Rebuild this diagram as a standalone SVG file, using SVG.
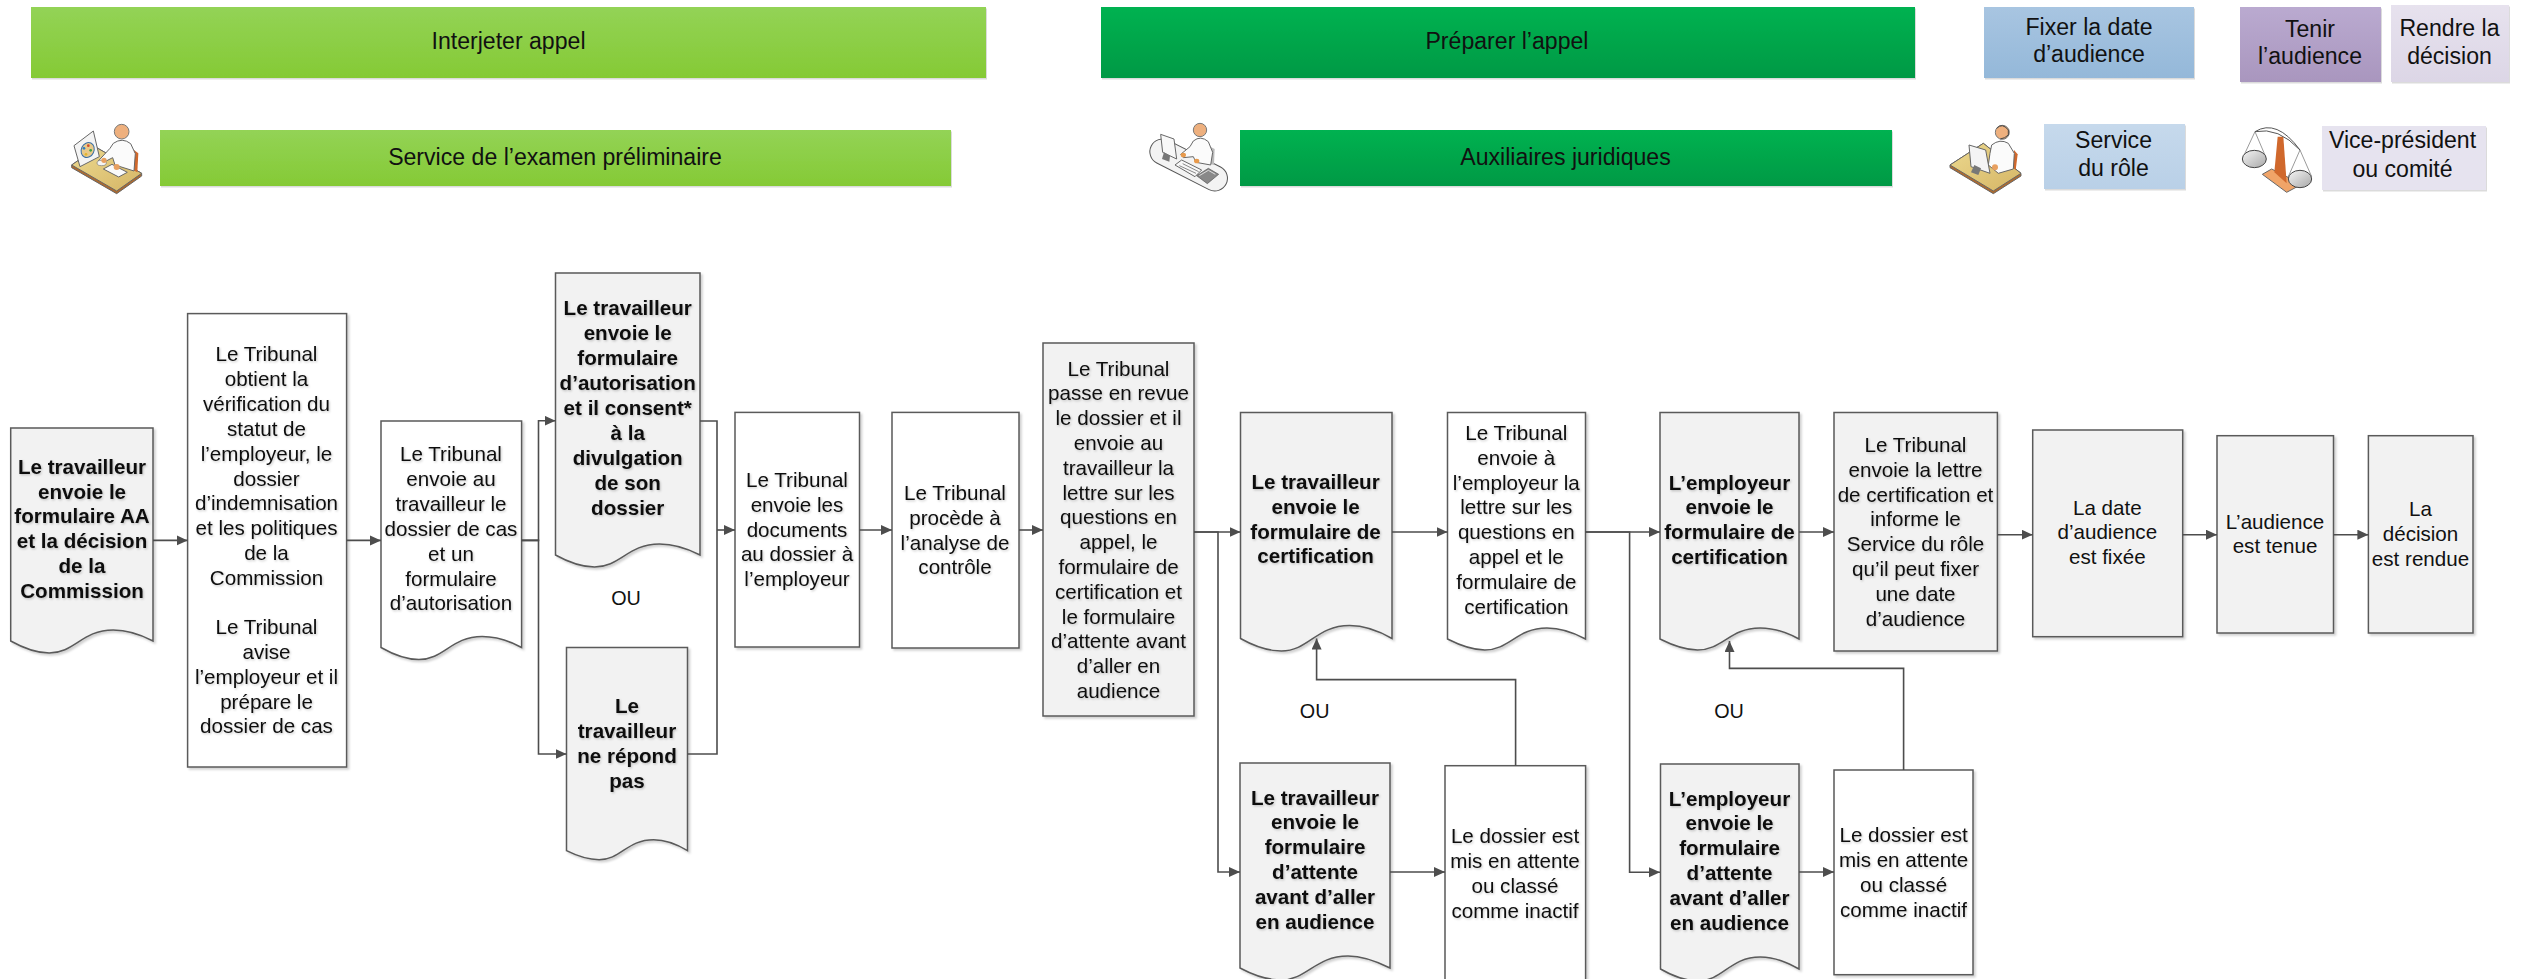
<svg xmlns="http://www.w3.org/2000/svg" width="2521" height="979" viewBox="0 0 2521 979">
<style>
text{font-family:"Liberation Sans",Arial,sans-serif;font-size:20.6px;fill:#111;text-anchor:middle}
.b{font-weight:bold}
.h{font-size:23.1px}
.ou{font-size:19.8px}
.ts{filter:url(#textShadow)}
.s{stroke:#5a5a5a;stroke-width:1.5;filter:url(#boxShadow)}
.w{fill:#fff}
.g{fill:#f2f2f2}
.hb{filter:url(#headShadow)}
.c{fill:none;stroke:#4d4d4d;stroke-width:1.6;marker-end:url(#arrow)}
.l{fill:none;stroke:#4d4d4d;stroke-width:1.6}
.ol{stroke:#666;stroke-width:3;stroke-linejoin:round}
</style>
<defs>
<filter id="boxShadow" x="-5%" y="-5%" width="110%" height="110%"><feDropShadow dx="2" dy="2" stdDeviation="1" flood-color="#000" flood-opacity=".18"/></filter>
<filter id="headShadow" x="-2%" y="-5%" width="104%" height="112%"><feDropShadow dx="1" dy="1.5" stdDeviation=".7" flood-color="#000" flood-opacity=".14"/></filter>
<filter id="textShadow" x="-5%" y="-5%" width="110%" height="110%"><feDropShadow dx="1" dy="1.2" stdDeviation=".8" flood-color="#000" flood-opacity=".22"/></filter>
<marker id="arrow" markerUnits="userSpaceOnUse" markerWidth="12" markerHeight="11" refX="11" refY="5" orient="auto"><path d="M0,0L11,5L0,10Z" fill="#4d4d4d"/></marker>
<linearGradient id="gl" x1="0" y1="0" x2="0" y2="1"><stop offset="0" stop-color="#93d356"/><stop offset="1" stop-color="#85ca35"/></linearGradient>
<linearGradient id="gd" x1="0" y1="0" x2="0" y2="1"><stop offset="0" stop-color="#00b251"/><stop offset="1" stop-color="#009944"/></linearGradient>
<linearGradient id="gb" x1="0" y1="0" x2="0" y2="1"><stop offset="0" stop-color="#a8c5e1"/><stop offset="1" stop-color="#94b8d9"/></linearGradient>
<linearGradient id="gp" x1="0" y1="0" x2="0" y2="1"><stop offset="0" stop-color="#baaad0"/><stop offset="1" stop-color="#a996be"/></linearGradient>
<linearGradient id="gr" x1="0" y1="0" x2="0" y2="1"><stop offset="0" stop-color="#e7e2ee"/><stop offset="1" stop-color="#dcd6e6"/></linearGradient>
<linearGradient id="gs" x1="0" y1="0" x2="0" y2="1"><stop offset="0" stop-color="#c6d9ec"/><stop offset="1" stop-color="#b9d0e7"/></linearGradient>
<linearGradient id="gm" x1="0" y1="0" x2="1" y2="1"><stop offset="0" stop-color="#f5f5f5"/><stop offset="1" stop-color="#a8a8a8"/></linearGradient>
<linearGradient id="gt" x1="0" y1="0" x2="1" y2="1"><stop offset="0" stop-color="#ecd98f"/><stop offset="1" stop-color="#d5b565"/></linearGradient>
</defs>

<g id="h-interjeter"><rect class="hb" x="31" y="7" width="955" height="71" fill="url(#gl)"/><text class="h" x="508.5" y="49">Interjeter appel</text></g>
<g id="h-preparer"><rect class="hb" x="1101" y="7" width="814" height="71" fill="url(#gd)"/><text class="h" x="1507" y="49">Préparer l’appel</text></g>
<g id="h-fixer"><rect class="hb" x="1984" y="7" width="210" height="71" fill="url(#gb)"/><text class="h" x="2089" y="34.7">Fixer la date</text><text class="h" x="2089" y="62.3">d’audience</text></g>
<g id="h-tenir"><rect class="hb" x="2240" y="7" width="141" height="75" fill="url(#gp)"/><text class="h" x="2310" y="36.7">Tenir</text><text class="h" x="2310" y="64">l’audience</text></g>
<g id="h-rendre"><rect class="hb" x="2391" y="5" width="118" height="77" fill="url(#gr)"/><text class="h" x="2449.5" y="36">Rendre la</text><text class="h" x="2449.5" y="64">décision</text></g>
<g id="r-examen"><rect class="hb" x="160" y="130" width="791" height="56" fill="url(#gl)"/><text class="h" x="555" y="164.7">Service de l’examen préliminaire</text></g>
<g id="r-auxiliaires"><rect class="hb" x="1240" y="130" width="652" height="56" fill="url(#gd)"/><text class="h" x="1565.5" y="164.7">Auxiliaires juridiques</text></g>
<g id="r-role"><rect class="hb" x="2044" y="124" width="141" height="65" fill="url(#gs)"/><text class="h" x="2113.5" y="148">Service</text><text class="h" x="2113.5" y="176">du rôle</text></g>
<g id="r-vice"><rect class="hb" x="2322" y="126" width="164" height="64" fill="#e6e3ef"/><text class="h" x="2402.5" y="148.3">Vice-président</text><text class="h" x="2402.5" y="177">ou comité</text></g>

<g id="icon-examen" transform="translate(60 115) scale(.3333)">
<path class="ol" d="M35,150L110,98L245,175V183L170,236L35,158Z" fill="#b06a2c"/>
<path class="ol" d="M35,150L110,98L245,175L170,228Z" fill="url(#gt)"/>
<path d="M222,105L235,115L232,172L219,165Z" fill="#d0682c"/>
<path class="ol" d="M42,92L100,48L118,125L60,155Z" fill="#f4f4f4"/>
<ellipse cx="83" cy="105" rx="19" ry="23" transform="rotate(25 83 105)" fill="#e8c98a" stroke="#3a6ea5" stroke-width="3"/>
<circle cx="72" cy="100" r="4" fill="#2f7fc1"/><circle cx="85" cy="92" r="4" fill="#d04a2c"/><circle cx="92" cy="106" r="4" fill="#3ca04a"/><circle cx="78" cy="118" r="4" fill="#e3b52c"/>
<path class="ol" d="M160,85Q187,66 212,86L226,116L222,168L165,150L158,128L125,145L115,138L150,100Z" fill="#fbfbfb"/>
<ellipse cx="125" cy="144" rx="14" ry="8" fill="#f4f4f4" stroke="#777" stroke-width="2"/>
<circle cx="132" cy="136" r="8" fill="#e8a060"/>
<path class="ol" d="M130,162L156,148L202,172L176,186Z" fill="#fafafa"/>
<circle cx="170" cy="156" r="9" fill="#e8a060"/>
<circle cx="185" cy="50" r="22" fill="#eeb07e" stroke="#777" stroke-width="3"/>
</g>

<g id="icon-auxiliaires" transform="translate(1140 115) scale(.3333)">
<rect x="20" y="112" width="252" height="76" rx="38" transform="rotate(27 146 150)" fill="#f3f3f3" stroke="#555" stroke-width="3"/>
<path d="M205,92L224,102L222,150L205,145Z" fill="#bbb"/>
<path class="ol" d="M62,58L102,72L110,132L68,112Z" fill="#f8f8f8"/>
<path d="M72,112L90,122L88,140L66,132Z" fill="#777"/>
<path class="ol" d="M160,78Q182,60 205,80L218,112L212,150L168,142L160,125L130,128L122,118L150,95Z" fill="#fbfbfb"/>
<ellipse cx="130" cy="120" rx="8" ry="7" fill="#e89a4c"/>
<ellipse cx="170" cy="138" rx="8" ry="7" fill="#e89a4c"/>
<path class="ol" d="M105,150L125,135L185,165L165,185Z" fill="#f8f8f8"/>
<path d="M118,152L168,175M128,146L176,170" stroke="#888" stroke-width="3"/>
<path d="M170,182L205,160L236,178L202,206Z" fill="#888" stroke="#555" stroke-width="2"/>
<path d="M178,182L205,166L226,178" fill="none" stroke="#ddd" stroke-width="3"/>
<circle cx="180" cy="45" r="20" fill="#eeb07e" stroke="#777" stroke-width="3"/>
</g>

<g id="icon-role" transform="translate(1945 115) scale(.3333)">
<path class="ol" d="M15,150L115,85L228,175V183L145,236L15,158Z" fill="#b06a2c"/>
<path class="ol" d="M15,150L115,85L228,175L145,228Z" fill="url(#gt)"/>
<path d="M207,105L218,118L212,165L202,155Z" fill="#d0682c"/>
<path class="ol" d="M140,90Q165,70 190,85L208,115L205,162L160,175L130,150L135,115Z" fill="#fbfbfb"/>
<circle cx="150" cy="157" r="9" fill="#e8a060"/>
<path class="ol" d="M72,90L122,105L135,175L78,155Z" fill="#f4f4f4"/>
<path d="M88,150L108,160L100,180L78,172Z" fill="#777"/>
<circle cx="172" cy="52" r="21" fill="#eeb07e" stroke="#777" stroke-width="3"/>
<path d="M155,40Q172,22 190,45L190,60Q180,70 166,72" fill="none" stroke="#444" stroke-width="3"/>
</g>

<g id="icon-vice" transform="translate(2235 115) scale(.3333)">
<path class="ol" d="M82,178L110,162L200,208L155,232Z" fill="#f0a468"/>
<path d="M128,65L145,65L155,205L118,172Z" fill="#d0682c"/>
<path d="M60,50L25,125M60,50L92,125M195,105L160,185M195,105L230,185" stroke="#666" stroke-width="2" fill="none"/>
<ellipse cx="58" cy="132" rx="36" ry="26" fill="url(#gm)" stroke="#444" stroke-width="3"/>
<ellipse cx="195" cy="192" rx="35" ry="26" fill="url(#gm)" stroke="#444" stroke-width="3"/>
<path d="M60,50Q125,10 195,105Q130,35 60,50Z" fill="#fff" stroke="#555" stroke-width="3" stroke-linejoin="round"/>
</g>

<g id="n1"><path class="s g" d="M10.7,428H153V641c-11.4,-6 -24.2,-11 -39.8,-11c-31.3,0 -38.4,23 -64,23c-12.8,0 -24.2,-4 -38.5,-12Z"/>
<text class="b ts" y="473.6"><tspan x="82">Le travailleur</tspan><tspan x="82" dy="24.9">envoie le</tspan><tspan x="82" dy="24.9">formulaire AA</tspan><tspan x="82" dy="24.9">et la décision</tspan><tspan x="82" dy="24.9">de la</tspan><tspan x="82" dy="24.9">Commission</tspan></text></g>

<g id="n2"><rect class="s w" x="187.6" y="313.6" width="159" height="453.4"/>
<text class="ts" y="361"><tspan x="266.5">Le Tribunal</tspan><tspan x="266.5" dy="24.9">obtient la</tspan><tspan x="266.5" dy="24.9">vérification du</tspan><tspan x="266.5" dy="24.9">statut de</tspan><tspan x="266.5" dy="24.9">l’employeur, le</tspan><tspan x="266.5" dy="24.9">dossier</tspan><tspan x="266.5" dy="24.9">d’indemnisation</tspan><tspan x="266.5" dy="24.9">et les politiques</tspan><tspan x="266.5" dy="24.9">de la</tspan><tspan x="266.5" dy="24.9">Commission</tspan><tspan x="266.5" dy="48.8">Le Tribunal</tspan><tspan x="266.5" dy="24.9">avise</tspan><tspan x="266.5" dy="24.9">l’employeur et il</tspan><tspan x="266.5" dy="24.9">prépare le</tspan><tspan x="266.5" dy="24.9">dossier de cas</tspan></text></g>

<g id="n3"><path class="s w" d="M381,421H521.6V647.5c-11.2,-6 -23.9,-11 -39.4,-11c-30.9,0 -38,23 -63.3,23c-12.7,0 -23.9,-4 -37.9,-12Z"/>
<text class="ts" y="461"><tspan x="451">Le Tribunal</tspan><tspan x="451" dy="24.9">envoie au</tspan><tspan x="451" dy="24.9">travailleur le</tspan><tspan x="451" dy="24.9">dossier de cas</tspan><tspan x="451" dy="24.9">et un</tspan><tspan x="451" dy="24.9">formulaire</tspan><tspan x="451" dy="24.9">d’autorisation</tspan></text></g>

<g id="n4"><path class="s g" d="M555.5,273H700V555c-11.6,-6 -24.6,-11 -40.5,-11c-31.8,0 -39,23 -65,23c-13,0 -24.6,-4 -39,-12Z"/>
<text class="b ts" y="315.4"><tspan x="627.7">Le travailleur</tspan><tspan x="627.7" dy="24.9">envoie le</tspan><tspan x="627.7" dy="24.9">formulaire</tspan><tspan x="627.7" dy="24.9">d’autorisation</tspan><tspan x="627.7" dy="24.9">et il consent*</tspan><tspan x="627.7" dy="24.9">à la</tspan><tspan x="627.7" dy="24.9">divulgation</tspan><tspan x="627.7" dy="24.9">de son</tspan><tspan x="627.7" dy="24.9">dossier</tspan></text></g>

<g id="n5"><path class="s g" d="M566.5,647.5H687.5V850.7c-9.7,-6 -20.6,-11 -33.9,-11c-26.6,0 -32.7,20 -54.5,20c-10.9,0 -20.6,-3 -32.6,-9Z"/>
<text class="b ts" y="713"><tspan x="627">Le</tspan><tspan x="627" dy="24.9">travailleur</tspan><tspan x="627" dy="24.9">ne répond</tspan><tspan x="627" dy="24.9">pas</tspan></text></g>

<g id="n6"><rect class="s w" x="735" y="412.4" width="124.5" height="234.6"/>
<text class="ts" y="487"><tspan x="797">Le Tribunal</tspan><tspan x="797" dy="24.8">envoie les</tspan><tspan x="797" dy="24.8">documents</tspan><tspan x="797" dy="24.8">au dossier à</tspan><tspan x="797" dy="24.8">l’employeur</tspan></text></g>

<g id="n7"><rect class="s w" x="892" y="412.4" width="127" height="235.6"/>
<text class="ts" y="500"><tspan x="955">Le Tribunal</tspan><tspan x="955" dy="24.8">procède à</tspan><tspan x="955" dy="24.8">l’analyse de</tspan><tspan x="955" dy="24.8">contrôle</tspan></text></g>

<g id="n8"><rect class="s g" x="1043" y="343" width="151" height="373"/>
<text class="ts" y="375.5"><tspan x="1118.5">Le Tribunal</tspan><tspan x="1118.5" dy="24.8">passe en revue</tspan><tspan x="1118.5" dy="24.8">le dossier et il</tspan><tspan x="1118.5" dy="24.8">envoie au</tspan><tspan x="1118.5" dy="24.8">travailleur la</tspan><tspan x="1118.5" dy="24.8">lettre sur les</tspan><tspan x="1118.5" dy="24.8">questions en</tspan><tspan x="1118.5" dy="24.8">appel, le</tspan><tspan x="1118.5" dy="24.8">formulaire de</tspan><tspan x="1118.5" dy="24.8">certification et</tspan><tspan x="1118.5" dy="24.8">le formulaire</tspan><tspan x="1118.5" dy="24.8">d’attente avant</tspan><tspan x="1118.5" dy="24.8">d’aller en</tspan><tspan x="1118.5" dy="24.8">audience</tspan></text></g>

<g id="n9"><path class="s g" d="M1240.5,412.4H1392V638.5c-12.1,-7 -25.8,-13 -42.4,-13c-33.3,0 -40.9,25.5 -68.2,25.5c-13.6,0 -25.8,-4 -40.9,-12.5Z"/>
<text class="b ts" y="489"><tspan x="1315.6">Le travailleur</tspan><tspan x="1315.6" dy="24.8">envoie le</tspan><tspan x="1315.6" dy="24.8">formulaire de</tspan><tspan x="1315.6" dy="24.8">certification</tspan></text></g>

<g id="n10"><path class="s w" d="M1447.5,412.5H1585.5V639c-11,-6 -23.5,-11 -38.6,-11c-30.4,0 -37.3,22 -62.1,22c-12.4,0 -23.5,-4 -37.3,-11Z"/>
<text class="ts" y="440"><tspan x="1516.3">Le Tribunal</tspan><tspan x="1516.3" dy="24.8">envoie à</tspan><tspan x="1516.3" dy="24.8">l’employeur la</tspan><tspan x="1516.3" dy="24.8">lettre sur les</tspan><tspan x="1516.3" dy="24.8">questions en</tspan><tspan x="1516.3" dy="24.8">appel et le</tspan><tspan x="1516.3" dy="24.8">formulaire de</tspan><tspan x="1516.3" dy="24.8">certification</tspan></text></g>

<g id="n11"><path class="s g" d="M1660,412.5H1799V639c-11.1,-6 -23.6,-11 -38.9,-11c-30.6,0 -37.5,22 -62.6,22c-12.5,0 -23.6,-4 -37.5,-11Z"/>
<text class="b ts" y="489.5"><tspan x="1729.5">L’employeur</tspan><tspan x="1729.5" dy="24.8">envoie le</tspan><tspan x="1729.5" dy="24.8">formulaire de</tspan><tspan x="1729.5" dy="24.8">certification</tspan></text></g>

<g id="n12"><rect class="s g" x="1834" y="412.5" width="163.4" height="238.5"/>
<text class="ts" y="452"><tspan x="1915.5">Le Tribunal</tspan><tspan x="1915.5" dy="24.8">envoie la lettre</tspan><tspan x="1915.5" dy="24.8">de certification et</tspan><tspan x="1915.5" dy="24.8">informe le</tspan><tspan x="1915.5" dy="24.8">Service du rôle</tspan><tspan x="1915.5" dy="24.8">qu’il peut fixer</tspan><tspan x="1915.5" dy="24.8">une date</tspan><tspan x="1915.5" dy="24.8">d’audience</tspan></text></g>

<g id="n13"><path class="s g" d="M1240,763H1390V968c-12,-6 -25.5,-12 -42,-12c-33,0 -40.5,24 -67.5,24c-13.5,0 -25.5,-4 -40.5,-12Z"/>
<text class="b ts" y="804.5"><tspan x="1315">Le travailleur</tspan><tspan x="1315" dy="24.8">envoie le</tspan><tspan x="1315" dy="24.8">formulaire</tspan><tspan x="1315" dy="24.8">d’attente</tspan><tspan x="1315" dy="24.8">avant d’aller</tspan><tspan x="1315" dy="24.8">en audience</tspan></text></g>

<g id="n14"><rect class="s w" x="1445" y="765.7" width="140.6" height="220"/>
<text class="ts" y="843.4"><tspan x="1515">Le dossier est</tspan><tspan x="1515" dy="24.8">mis en attente</tspan><tspan x="1515" dy="24.8">ou classé</tspan><tspan x="1515" dy="24.8">comme inactif</tspan></text></g>

<g id="n15"><path class="s g" d="M1660.5,764H1799V969c-11.1,-6 -23.5,-12 -38.8,-12c-30.5,0 -37.4,24 -62.3,24c-12.5,0 -23.5,-4 -37.4,-12Z"/>
<text class="b ts" y="805.5"><tspan x="1729.5">L’employeur</tspan><tspan x="1729.5" dy="24.8">envoie le</tspan><tspan x="1729.5" dy="24.8">formulaire</tspan><tspan x="1729.5" dy="24.8">d’attente</tspan><tspan x="1729.5" dy="24.8">avant d’aller</tspan><tspan x="1729.5" dy="24.8">en audience</tspan></text></g>

<g id="n16"><rect class="s w" x="1834" y="770" width="139" height="204.7"/>
<text class="ts" y="842.3"><tspan x="1903.6">Le dossier est</tspan><tspan x="1903.6" dy="24.8">mis en attente</tspan><tspan x="1903.6" dy="24.8">ou classé</tspan><tspan x="1903.6" dy="24.8">comme inactif</tspan></text></g>

<g id="n17"><rect class="s g" x="2032.7" y="430" width="150" height="206.7"/>
<text y="514.7"><tspan x="2107.3">La date</tspan><tspan x="2107.3" dy="24.5">d’audience</tspan><tspan x="2107.3" dy="24.5">est fixée</tspan></text></g>

<g id="n18"><rect class="s g" x="2217" y="435.7" width="116.5" height="197.3"/>
<text y="528.7"><tspan x="2275">L’audience</tspan><tspan x="2275" dy="24">est tenue</tspan></text></g>

<g id="n19"><rect class="s g" x="2368.4" y="435.7" width="104.6" height="197.3"/>
<text y="516"><tspan x="2420.5">La</tspan><tspan x="2420.5" dy="24.8">décision</tspan><tspan x="2420.5" dy="24.8">est rendue</tspan></text></g>

<g id="labels">
<text class="ou" x="626" y="604.5">OU</text>
<text class="ou" x="1314.6" y="717.5">OU</text>
<text class="ou" x="1729" y="717.5">OU</text>
</g>

<g id="connectors">
<path class="c" d="M153,540.4H187.6"/>
<path class="c" d="M346.6,540.4H381"/>
<path class="c" d="M521.6,540.4H538.5V420.7H555.5"/>
<path class="c" d="M521.6,540.4H538.5V754H566.5"/>
<path class="l" d="M700,421H717V530"/>
<path class="l" d="M687.5,754H717V530"/>
<path class="c" d="M717,530H735"/>
<path class="c" d="M859.5,530H892"/>
<path class="c" d="M1019,530H1043"/>
<path class="c" d="M1194,532H1240.5"/>
<path class="c" d="M1194,532H1218V872H1240"/>
<path class="c" d="M1392,532H1447.5"/>
<path class="c" d="M1585.5,532H1660"/>
<path class="c" d="M1585.5,532H1629.6V872.3H1660"/>
<path class="c" d="M1799,532H1834"/>
<path class="c" d="M1997.4,534.7H2032.7"/>
<path class="c" d="M2182.7,534.7H2217"/>
<path class="c" d="M2333.5,534.7H2368.4"/>
<path class="c" d="M1390,872H1445"/>
<path class="c" d="M1799,872H1834"/>
<path class="c" d="M1515.6,765.7V679.6H1316.6V638.5"/>
<path class="c" d="M1903.6,770V668.4H1729.5V641"/>
</g>
</svg>
